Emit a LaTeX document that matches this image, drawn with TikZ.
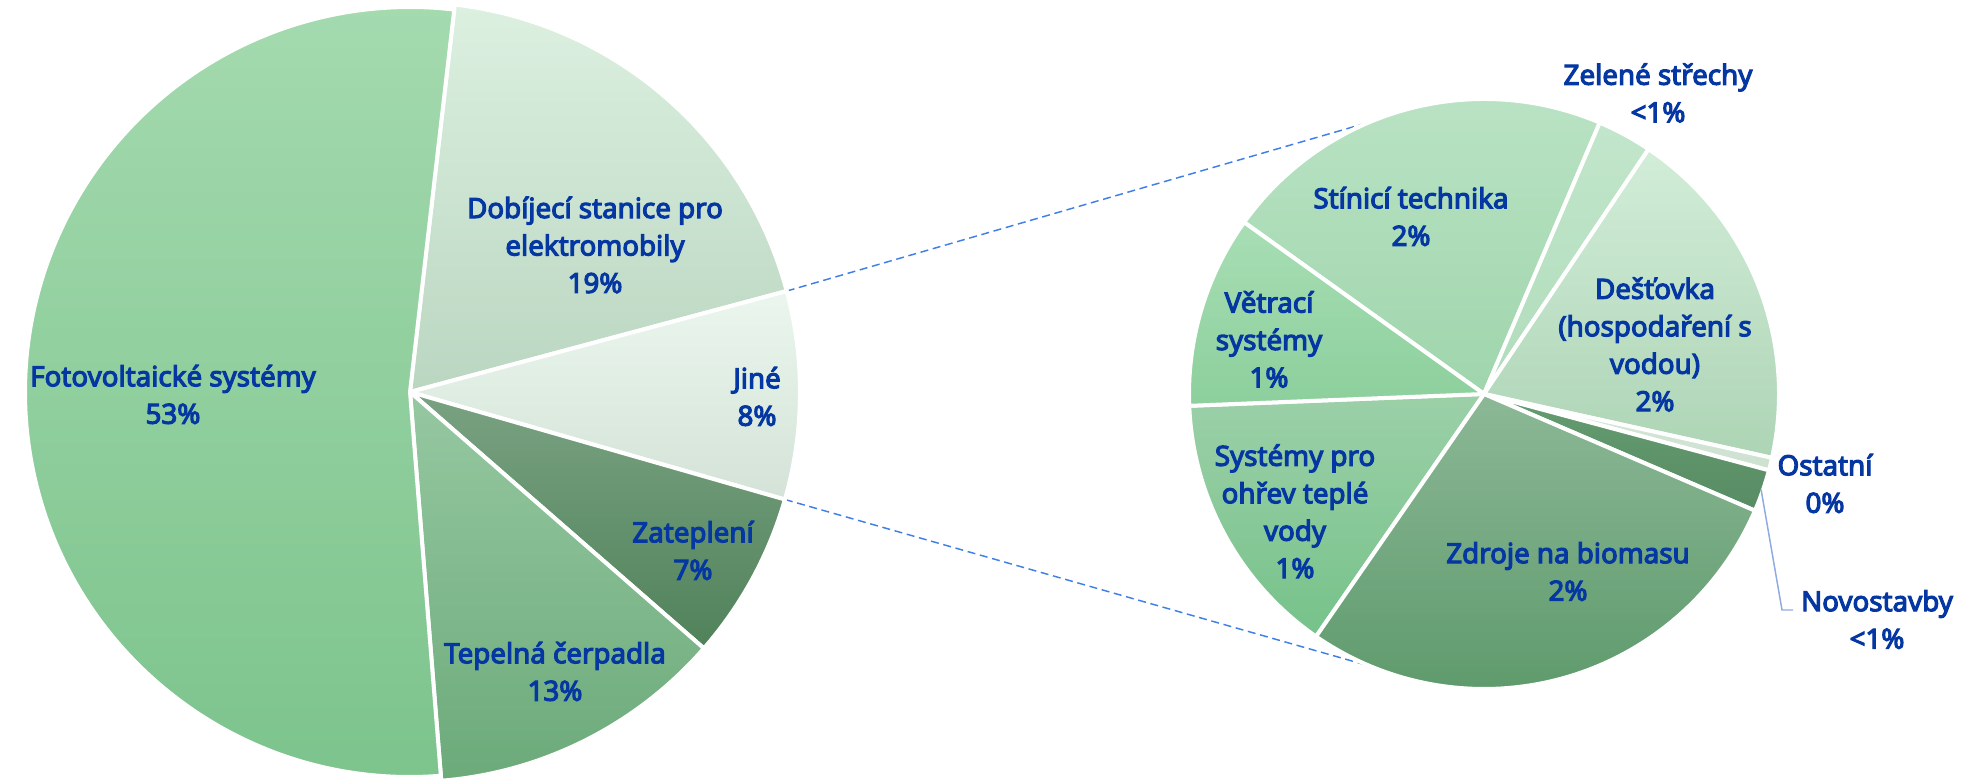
\documentclass[tikz,border=0pt]{standalone}
\usepackage{fontspec}
\setmainfont{Noto Sans}[AutoFakeBold=4]
\definecolor{lblblue}{RGB}{5,55,162}
\definecolor{dashblue}{RGB}{64,128,230}
\definecolor{leaderblue}{RGB}{143,170,225}
% left pie
\definecolor{fotoT}{RGB}{164,218,175}\definecolor{fotoB}{RGB}{124,195,140}
\definecolor{dobT}{RGB}{220,240,224}\definecolor{dobB}{RGB}{186,214,193}
\definecolor{jineT}{RGB}{235,247,238}\definecolor{jineB}{RGB}{212,226,215}
\definecolor{zatT}{RGB}{122,162,130}\definecolor{zatB}{RGB}{80,130,90}
\definecolor{tepT}{RGB}{150,200,161}\definecolor{tepB}{RGB}{108,170,122}
% right pie
\definecolor{stinT}{RGB}{188,228,198}\definecolor{stinB}{RGB}{159,213,172}
\definecolor{zelT}{RGB}{194,230,203}\definecolor{zelB}{RGB}{176,220,187}
\definecolor{destT}{RGB}{210,237,216}\definecolor{destB}{RGB}{173,212,181}
\definecolor{ostT}{RGB}{214,232,217}\definecolor{ostB}{RGB}{205,225,209}
\definecolor{novT}{RGB}{101,156,113}\definecolor{novB}{RGB}{88,140,100}
\definecolor{zdrT}{RGB}{140,184,150}\definecolor{zdrB}{RGB}{94,154,108}
\definecolor{sysT}{RGB}{156,208,168}\definecolor{sysB}{RGB}{118,194,138}
\definecolor{vetT}{RGB}{168,222,180}\definecolor{vetB}{RGB}{140,207,156}
\newcommand\slc[6]{\shadedraw[slice, top color=#5, bottom color=#6] (#1) -- ++(#2:#4) arc[start angle=#2, end angle=#3, radius=#4] -- cycle;}
\tikzset{
  lbl/.style={font=\bfseries\fontsize{20.8}{28.1}\selectfont, text=lblblue, align=center, inner sep=0pt},
  slice/.style={draw=white, line width=3pt, line join=round},
  series/.style={draw=dashblue, line width=1.1pt, dash pattern=on 6pt off 3.5pt},
  leader/.style={draw=leaderblue, line width=1.1pt}
}
\begin{document}
\begin{tikzpicture}[x=0.75pt,y=0.75pt]
\useasboundingbox (0,0) rectangle (1978,781);
\coordinate (c1) at (410,389);
\coordinate (c2) at (1484,387);
% series lines
\coordinate (jt) at ([shift={(15:390)}]c1);
\coordinate (jb) at ([shift={(-16:390)}]c1);
\coordinate (pt) at ([shift={(107:293)}]c2);
\coordinate (pb) at ([shift={(-107:293)}]c2);
\draw[series] (jt) -- (pt);
\draw[series] (jb) -- (pb);
% left pie
\slc{c1}{83.4}{15}{390}{dobT}{dobB}
\slc{c1}{15}{-16}{390}{jineT}{jineB}
\slc{c1}{-16}{-41.1}{390}{zatT}{zatB}
\slc{c1}{-41.1}{-85.4}{390}{tepT}{tepB}
\begin{scope}[shift={(179:11)}]
\slc{c1}{-85.4}{-276.6}{385}{fotoT}{fotoB}
\end{scope}
% right pie
\slc{c2}{144.4}{66.9}{295}{stinT}{stinB}
\slc{c2}{66.9}{56.1}{295}{zelT}{zelB}
\slc{c2}{56.1}{-12.5}{295}{destT}{destB}
\slc{c2}{-12.5}{-15}{295}{ostT}{ostB}
\slc{c2}{-15}{-23.3}{295}{novT}{novB}
\slc{c2}{-124.7}{-177.7}{295}{sysT}{sysB}
\slc{c2}{182.3}{144.4}{295}{vetT}{vetB}
\begin{scope}[shift={(-74:5)}]
\slc{c2}{-23.3}{-124.7}{295}{zdrT}{zdrB}
\end{scope}
% leader
\coordinate (nvs) at ([shift={(-19:293)}]c2);
\coordinate (nvk) at (1782,171);
\coordinate (nve) at (1793,171);
\draw[leader] (nvs) -- (nvk) -- (nve);
% labels
\node[lbl] (lfoto) at (173,386.5) {Fotovoltaické systémy\\53\%};
\node[lbl] (ldob) at (595,536) {Dobíjecí stanice pro\\elektromobily\\19\%};
\node[lbl] (ljine) at (757,384.5) {Jiné\\8\%};
\node[lbl] (lzat) at (693,230.5) {Zateplení\\7\%};
\node[lbl] (ltep) at (555,109.5) {Tepelná čerpadla\\13\%};
\node[lbl] (lzel) at (1658,688) {Zelené střechy\\<1\%};
\node[lbl] (lstin) at (1411,564.5) {Stínicí technika\\2\%};
\node[lbl] (lvetr) at (1269,441.5) {Větrací\\systémy\\1\%};
\node[lbl] (ldest) at (1655,436.5) {Dešťovka\\(hospodaření s\\vodou)\\2\%};
\node[lbl] (lost) at (1825,297.5) {Ostatní\\0\%};
\node[lbl] (lsys) at (1295,269.5) {Systémy pro\\ohřev teplé\\vody\\1\%};
\node[lbl] (lzdr) at (1568,209.5) {Zdroje na biomasu\\2\%};
\node[lbl] (lnov) at (1877,161.5) {Novostavby\\<1\%};
\end{tikzpicture}
\end{document}
